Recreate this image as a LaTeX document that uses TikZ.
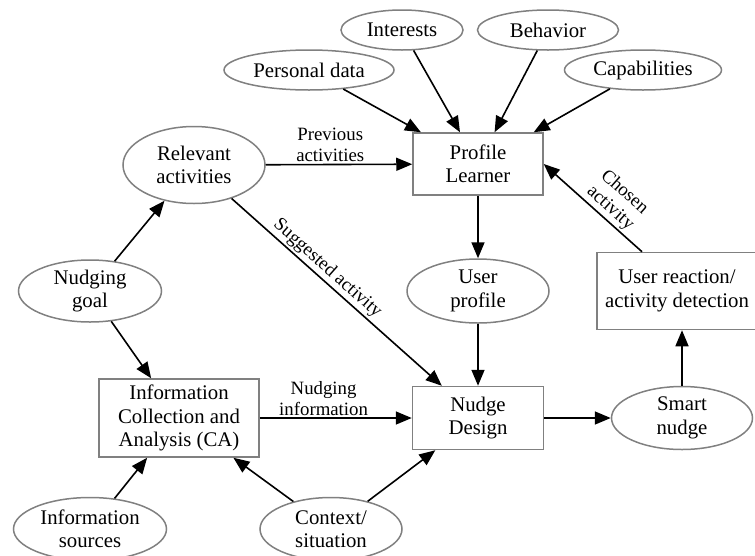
\documentclass[tikz,border=0pt]{standalone}
\usepackage{fontspec}
\setmainfont{Liberation Serif}
\usetikzlibrary{shapes.geometric,arrows.meta}
\definecolor{bord}{RGB}{128,128,128}
\newcommand\dgNodeFont{\fontsize{20.8}{23.5}\selectfont}
\newcommand\dgLabFont{\fontsize{18.8}{21}\selectfont}
\begin{document}
\begin{tikzpicture}[x=1pt,y=-1pt,
  ell/.style={ellipse, draw=bord, line width=1.5pt, inner sep=0pt, align=center, font=\dgNodeFont},
  box/.style={rectangle, draw=bord, line width=1.5pt, inner sep=0pt, align=center, font=\dgNodeFont},
  arr/.style={line width=1.6pt, -{Triangle[length=16pt,width=13pt]}},
  lab/.style={font=\dgLabFont, align=center, inner sep=2pt}]
\useasboundingbox (0,0) rectangle (755,555);
% nodes
\node[ell, minimum width=122pt, minimum height=40pt] (interests) at (402,30) {Interests};
\node[ell, minimum width=141pt, minimum height=40pt] (behavior) at (548,30) {Behavior};
\node[ell, minimum width=170pt, minimum height=40pt] (personal) at (309,70) {Personal data};
\node[ell, minimum width=157pt, minimum height=40pt] (capab) at (643,70) {Capabilities};
\node[box, minimum width=130pt, minimum height=62pt] (pl) at (478,164) {Profile\\Learner};
\node[ell, minimum width=142pt, minimum height=77pt] (relev) at (194,165) {Relevant\\activities};
\node[ell, minimum width=143pt, minimum height=62pt] (goal) at (90,291) {Nudging\\goal};
\node[ell, minimum width=142pt, minimum height=64pt] (uprof) at (478,291) {User\\profile};
\node[box, minimum width=160pt, minimum height=77pt] (ur) at (677,291) {User reaction/\\activity detection};
\node[box, minimum width=160pt, minimum height=78pt] (ca) at (179,418) {Information\\Collection and\\Analysis (CA)};
\node[box, minimum width=131pt, minimum height=63pt] (nd) at (478,418) {Nudge\\Design};
\node[ell, minimum width=141pt, minimum height=63pt] (sn) at (682,418) {Smart\\nudge};
\node[ell, minimum width=153pt, minimum height=63pt] (isrc) at (90,529) {Information\\sources};
\node[ell, minimum width=142pt, minimum height=63pt] (ctx) at (331,529) {Context/\\situation};
% edges
\draw[arr] (personal) -- (pl);
\draw[arr] (interests) -- (pl);
\draw[arr] (behavior) -- (pl);
\draw[arr] (capab) -- (pl);
\draw[arr] (relev) -- node[lab, above, pos=0.44] {Previous\\activities} (pl);
\draw[arr] (goal) -- (relev);
\draw[arr] (goal) -- (ca);
\draw[arr] (relev) -- node[lab, sloped, above, pos=0.42] {Suggested activity} (nd);
\draw[arr] (pl) -- (uprof);
\draw[arr] (uprof) -- (nd);
\draw[arr] (ca) -- node[lab, above, pos=0.42] {Nudging\\information} (nd);
\draw[arr] (nd) -- (sn);
\draw[arr] (sn.north) -- (sn.north |- ur.south);
\draw[arr] ([xshift=-35pt]ur.north) -- node[lab, sloped, above, pos=0.4] {Chosen\\activity} (pl.east);
\draw[arr] (isrc) -- (ca);
\draw[arr] (ctx) -- (ca);
\draw[arr] (ctx) -- (nd);
\end{tikzpicture}
\end{document}
